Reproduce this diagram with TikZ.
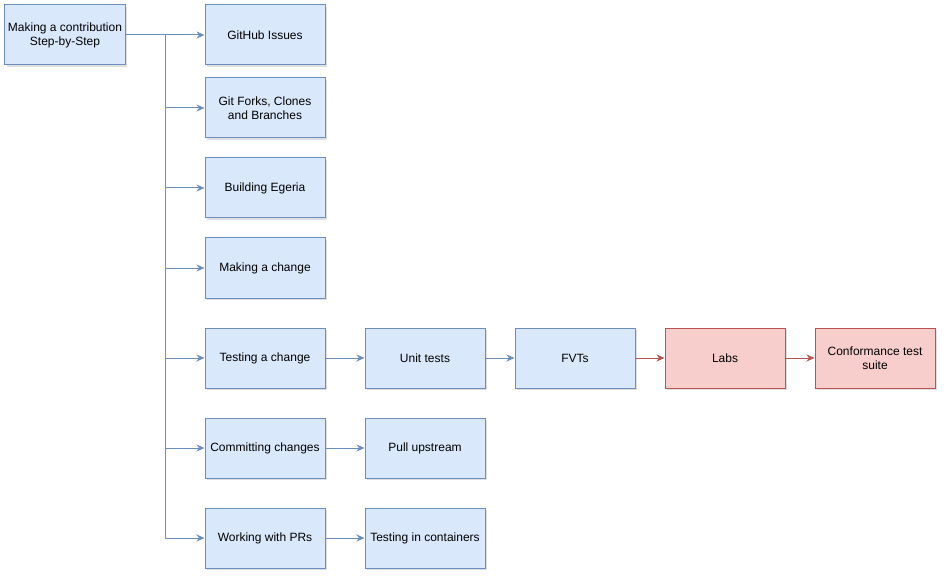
\documentclass[tikz,border=0pt]{standalone}
\usepackage{fontspec}
\setmainfont{Liberation Sans}
\usepackage{tikz}
\usetikzlibrary{positioning,calc,arrows.meta,shadows}
\definecolor{bfill}{HTML}{DAE8FC}
\definecolor{bline}{HTML}{6C8EBF}
\definecolor{rfill}{HTML}{F8CECC}
\definecolor{rline}{HTML}{B85450}
\tikzstyle{block} = [draw=bline, fill=bfill, line width=1pt, rectangle, minimum height=60pt, minimum width=120pt, align=center, font=\fontsize{12}{14}\selectfont, drop shadow={opacity=0.25, shadow xshift=2pt, shadow yshift=-2pt}]
\tikzstyle{rd} = [draw=rline, fill=rfill]
\tikzstyle{link} = [-{Stealth[length=8pt,width=7pt,inset=2.5pt]}, line width=1pt, draw=bline]
\tikzstyle{rlink} = [draw=rline]

\begin{document}
\begin{tikzpicture}[auto, node distance=150pt, x=1pt, y=1pt]
	\useasboundingbox (0,0) rectangle (952,-585);
	\node (root) [block] at (65,-35) {Making a contribution\\Step-by-Step};
	%
	\node (issues) [block,node distance=200pt,right of=root] {GitHub Issues};
	\node (forks) [block,node distance=73pt,below of=issues] {Git Forks, Clones\\and Branches};
	\node (build) [block,node distance=80pt,below of=forks] {Building Egeria};
	\node (change) [block,node distance=80pt,below of=build] {Making a change};
	\node (testing) [block,node distance=90pt,below of=change] {Testing a change};
	\node (commit) [block,node distance=90pt,below of=testing] {Committing changes};
	\node (prs) [block,node distance=90pt,below of=commit] {Working with PRs};
	%
	\node (unit) [block,node distance=160pt,right of=testing] {Unit tests};
	\node (fvt) [block,right of=unit] {FVTs};
	\node (labs) [block,rd,right of=fvt] {Labs};
	\node (cts) [block,rd,right of=labs] {Conformance test\\suite};
	%
	\node (pull) [block,node distance=160pt,right of=commit] {Pull upstream};
	\node (containers) [block,node distance=160pt,right of=prs] {Testing in containers};
	%
	\coordinate (trunk) at ($(root.east)!0.5!(issues.west)$);
	%
	\draw [link] (root.east) -- (issues.west);
	\draw [link] (trunk) |- (forks.west);
	\draw [link] (trunk) |- (build.west);
	\draw [link] (trunk) |- (change.west);
	\draw [link] (trunk) |- (testing.west);
	\draw [link] (trunk) |- (commit.west);
	\draw [link] (trunk) |- (prs.west);
	%
	\draw [link] (testing.east) -- (unit.west);
	\draw [link] (unit.east) -- (fvt.west);
	\draw [link,rlink] (fvt.east) -- (labs.west);
	\draw [link,rlink] (labs.east) -- (cts.west);
	%
	\draw [link] (commit.east) -- (pull.west);
	\draw [link] (prs.east) -- (containers.west);
\end{tikzpicture}
\end{document}
